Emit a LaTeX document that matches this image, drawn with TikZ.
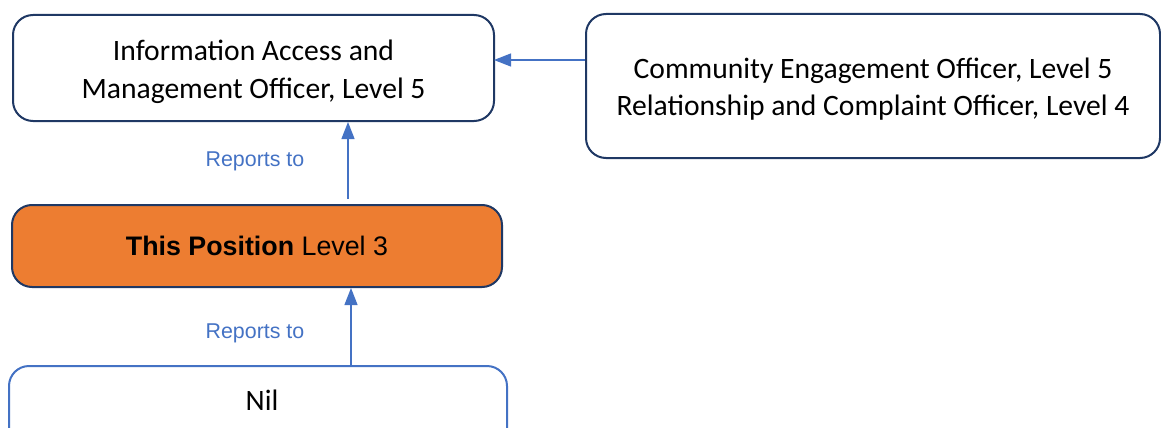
\documentclass[tikz,border=0pt]{standalone}
\usepackage{fontspec}
\setmainfont{Carlito}
\newfontfamily\arialf{Liberation Sans}
\usetikzlibrary{arrows.meta}
\definecolor{navy}{HTML}{1F3864}
\definecolor{mblue}{HTML}{4472C4}
\definecolor{morange}{HTML}{ED7D31}
\tikzset{
  box/.style={draw=navy, line width=2pt, rounded corners=20pt, fill=white},
  conn/.style={draw=mblue, line width=1.3pt, -{Triangle[length=17pt,width=13pt]}},
  lbl/.style={text=mblue, font=\arialf\fontsize{21.4}{25}\selectfont},
}
\begin{document}
\begin{tikzpicture}[x=1pt,y=-1pt]
\useasboundingbox (0,0) rectangle (1161,428);
\path[box] (13,15) rectangle (494,121);
\node[align=center, font=\fontsize{29.6}{38}\selectfont] (iam) at (253.5,72) {Information Access and\\Management Officer, Level 5};
\coordinate (iamR) at (494,60);
\coordinate (iamB) at (348,122);
\path[box] (586,14) rectangle (1160,158);
\node[align=center, font=\fontsize{29.6}{37}\selectfont] (ce) at (873,89.5) {Community Engagement Officer, Level 5\\Relationship and Complaint Officer, Level 4};
\coordinate (ceL) at (585,60);
\path[box, fill=morange] (12,205) rectangle (502,287);
\node[font=\arialf\fontsize{26.8}{30}\selectfont] (tp) at (257,246) {\textbf{This Position} Level 3};
\coordinate (tpT) at (348,199);
\coordinate (tpB) at (351,288);
\path[box, draw=mblue] (9,366) rectangle (507,460);
\node[font=\fontsize{29.6}{34}\selectfont] (nil) at (262,400) {Nil};
\coordinate (nilT) at (351,366);
\node[lbl] (r1) at (255,161) {Reports to};
\node[lbl] (r2) at (255,333) {Reports to};
\draw[conn] (ceL) -- (iamR);
\draw[conn] (tpT) -- (iamB);
\draw[conn] (nilT) -- (tpB);
\end{tikzpicture}
\end{document}
